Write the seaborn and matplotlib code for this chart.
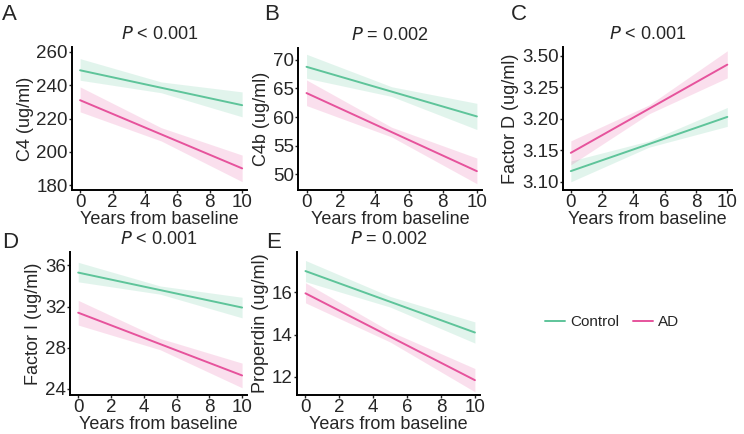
import numpy as np
import matplotlib
matplotlib.use("Agg")
import matplotlib.pyplot as plt
import pandas as pd
import seaborn as sns

# fitted trajectories (years 0 and 10) and 95% CI bands (years 0, 5, 10)
years_fit = [0, 10]
years_band = [0, 5, 10]

c4_ctrl = [249, 228]
c4_ctrl_lo = [243, 235.5, 221]
c4_ctrl_hi = [256, 242, 236]
c4_ad = [231, 190]
c4_ad_lo = [224, 206.5, 182]
c4_ad_hi = [239, 214.5, 198]

c4b_ctrl = [68.8, 60.1]
c4b_ctrl_lo = [66.8, 63.6, 57.8]
c4b_ctrl_hi = [71.0, 65.3, 62.4]
c4b_ad = [64.2, 50.5]
c4b_ad_lo = [62.0, 56.5, 48.3]
c4b_ad_hi = [66.5, 58.2, 52.8]

fd_ctrl = [3.117, 3.203]
fd_ctrl_lo = [3.100, 3.155, 3.188]
fd_ctrl_hi = [3.133, 3.165, 3.218]
fd_ad = [3.146, 3.286]
fd_ad_lo = [3.127, 3.208, 3.265]
fd_ad_hi = [3.165, 3.222, 3.308]

fi_ctrl = [35.3, 31.9]
fi_ctrl_lo = [34.4, 33.2, 30.9]
fi_ctrl_hi = [36.3, 34.0, 32.9]
fi_ad = [31.4, 25.3]
fi_ad_lo = [30.2, 27.8, 24.1]
fi_ad_hi = [32.6, 28.9, 26.5]

pr_ctrl = [17.0, 14.1]
pr_ctrl_lo = [16.5, 15.3, 13.6]
pr_ctrl_hi = [17.5, 15.8, 14.6]
pr_ad = [15.95, 11.85]
pr_ad_lo = [15.5, 13.65, 11.3]
pr_ad_hi = [16.45, 14.15, 12.4]

groups = ["Control", "AD"]
colors = {"Control": "#5ec49a", "AD": "#e6539c"}

sns.set_style("ticks")
plt.rcParams['font.family'] = ['Liberation Sans', 'DejaVu Sans']

W, H = 744, 434
fig = plt.figure(figsize=(W / 100, H / 100), dpi=100)


def axes_px(left, top, right, bottom):
    return fig.add_axes([left / W, 1 - bottom / H, (right - left) / W, (bottom - top) / H])


def panel(box, ptext, ylabel, ctrl, ad, ylim, yticks, yticklabels=None):
    ax = axes_px(*box)
    df = pd.DataFrame({
        "year": years_fit * 2,
        "value": ctrl[0] + ad[0],
        "group": ["Control"] * 2 + ["AD"] * 2,
    })
    sns.lineplot(data=df, x="year", y="value", hue="group", hue_order=groups,
                 palette=colors, lw=1.4, ax=ax, legend=False)
    for g, band in zip(groups, [ctrl, ad]):
        ax.fill_between(years_band, band[1], band[2], color=colors[g], alpha=0.18, lw=0)
    ax.set_xlim(-0.5, 10.3)
    ax.set_ylim(*ylim)
    ax.set_xticks([0, 2, 4, 6, 8, 10])
    ax.set_yticks(yticks)
    if yticklabels is not None:
        ax.set_yticklabels(yticklabels)
    ax.tick_params(labelsize=13.5, length=2, width=1, pad=1)
    ax.set_xlabel("Years from baseline", fontsize=13, labelpad=0)
    ax.set_ylabel(ylabel, fontsize=13, labelpad=2)
    sns.despine(ax=ax)
    for s in ["left", "bottom"]:
        ax.spines[s].set_linewidth(1.4)
        ax.spines[s].set_color("black")
    p, rest = ptext
    ax.set_title(f"$\\it{{{p}}}$ {rest}", fontsize=13, pad=6)
    return ax


panel((72, 47, 247, 190), ("P", "< 0.001"), "C4 (ug/ml)",
      (c4_ctrl, c4_ctrl_lo, c4_ctrl_hi), (c4_ad, c4_ad_lo, c4_ad_hi),
      (177, 263), [180, 200, 220, 240, 260])
panel((298, 48, 482, 190), ("P", "= 0.002"), "C4b (ug/ml)",
      (c4b_ctrl, c4b_ctrl_lo, c4b_ctrl_hi), (c4b_ad, c4b_ad_lo, c4b_ad_hi),
      (47.2, 72.1), [50, 55, 60, 65, 70])
panel((563, 47, 732, 190), ("P", "< 0.001"), "Factor D (ug/ml)",
      (fd_ctrl, fd_ctrl_lo, fd_ctrl_hi), (fd_ad, fd_ad_lo, fd_ad_hi),
      (3.087, 3.314), [3.10, 3.15, 3.20, 3.25, 3.30],
      ["3.10", "3.15", "3.20", "3.25", "3.50"])
panel((70, 252, 247, 395), ("P", "< 0.001"), "Factor I (ug/ml)",
      (fi_ctrl, fi_ctrl_lo, fi_ctrl_hi), (fi_ad, fi_ad_lo, fi_ad_hi),
      (23.4, 37.3), [24, 28, 32, 36])
panel((297, 252, 480, 395), ("P", "= 0.002"), "Properdin (ug/ml)",
      (pr_ctrl, pr_ctrl_lo, pr_ctrl_hi), (pr_ad, pr_ad_lo, pr_ad_hi),
      (11.15, 17.9), [12, 14, 16])

# panel letters
for letter, (x, y) in zip("ABCDE", [(2, 14), (264, 14), (511, 14), (2, 243), (266, 243)]):
    fig.text(x / W, 1 - y / H, letter, fontsize=16, va="center", ha="left")

# legend
handles = [plt.Line2D([], [], color=colors[g], lw=1.4) for g in groups]
fig.legend(handles, groups, loc="center", bbox_to_anchor=(612 / W, 1 - 322 / H),
           ncol=2, frameon=False, fontsize=11, handlelength=1.3, columnspacing=0.9,
           handletextpad=0.35)

fig.savefig("out.png", dpi=100)
